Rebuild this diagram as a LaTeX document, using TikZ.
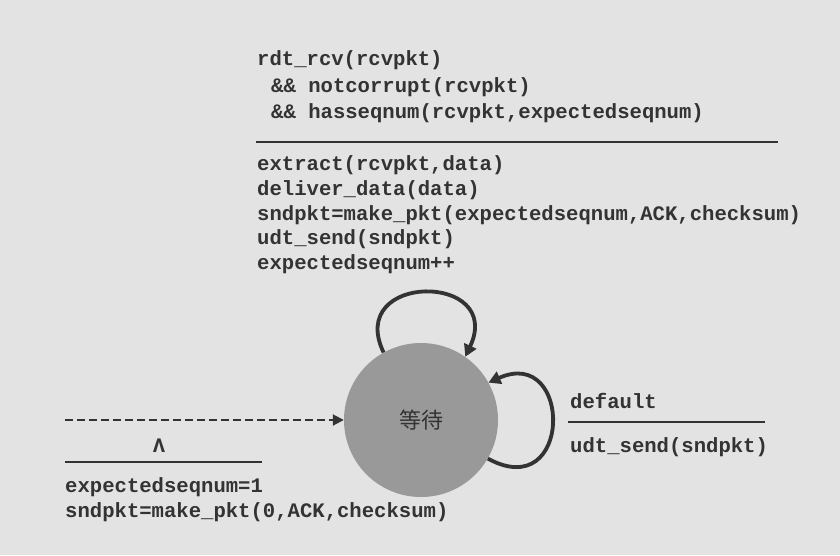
\documentclass[tikz,border=0pt]{standalone}
\usepackage{fontspec}
\setmonofont{Liberation Mono}
\newfontfamily\cjk{Noto Sans CJK SC}
\usetikzlibrary{arrows.meta}
\definecolor{paper}{HTML}{E3E3E3}
\definecolor{ink}{HTML}{333333}
\definecolor{stategray}{HTML}{999999}
\tikzset{
  code/.style={anchor=base west, inner sep=0pt, text=ink,
    font=\fontsize{20.6}{25}\selectfont\ttfamily\bfseries},
  rulel/.style={draw=ink, line width=1.6pt},
  loopline/.style={draw=ink, line width=3.8pt, -{Triangle[length=12pt,width=13pt]}},
  initline/.style={draw=ink, line width=2pt, dash pattern=on 8pt off 4pt, -{Triangle[length=11pt,width=11pt]}},
}
\begin{document}
\begin{tikzpicture}[x=1pt,y=-1pt]
\fill[paper] (0,0) rectangle (840,555);
\useasboundingbox (0,0) rectangle (840,555);

% state
\node[circle, fill=stategray, minimum size=154pt, inner sep=0pt,
      text=ink, font=\cjk\fontsize{22}{22}\selectfont] (wait) at (421,420) {等待};

% top transition label
\node[code] (t1) at (257,65) {rdt\_rcv(rcvpkt)};
\node[code] (t2) at (271,92) {\&\& notcorrupt(rcvpkt)};
\node[code] (t3) at (271,118) {\&\& hasseqnum(rcvpkt,expectedseqnum)};
\coordinate (tr1) at (256,142);
\coordinate (tr2) at (778,142);
\draw[rulel] (tr1) -- (tr2);
\node[code] (a1) at (257,170) {extract(rcvpkt,data)};
\node[code] (a2) at (257,195) {deliver\_data(data)};
\node[code] (a3) at (257,220) {sndpkt=make\_pkt(expectedseqnum,ACK,checksum)};
\node[code] (a4) at (257,244) {udt\_send(sndpkt)};
\node[code] (a5) at (257,269) {expectedseqnum++};

% top self loop
\draw[loopline] (wait.119) .. controls (345,272) and (505,272) .. (wait.55);

% right self loop
\draw[loopline] (wait.-30) .. controls (573,505) and (573,345) .. (wait.29);

% right label
\node[code] (d1) at (570,408) {default};
\coordinate (dr1) at (568,422);
\coordinate (dr2) at (765,422);
\draw[rulel] (dr1) -- (dr2);
\node[code] (d2) at (570,452) {udt\_send(sndpkt)};

% initial transition
\coordinate (start) at (65,420);
\draw[initline] (start) -- (wait.west);
\node[code, anchor=base] (lam) at (159,452) {Λ};
\coordinate (lr1) at (65,462);
\coordinate (lr2) at (262,462);
\draw[rulel] (lr1) -- (lr2);
\node[code] (i1) at (65,492) {expectedseqnum=1};
\node[code] (i2) at (65,517) {sndpkt=make\_pkt(0,ACK,checksum)};
\end{tikzpicture}
\end{document}
